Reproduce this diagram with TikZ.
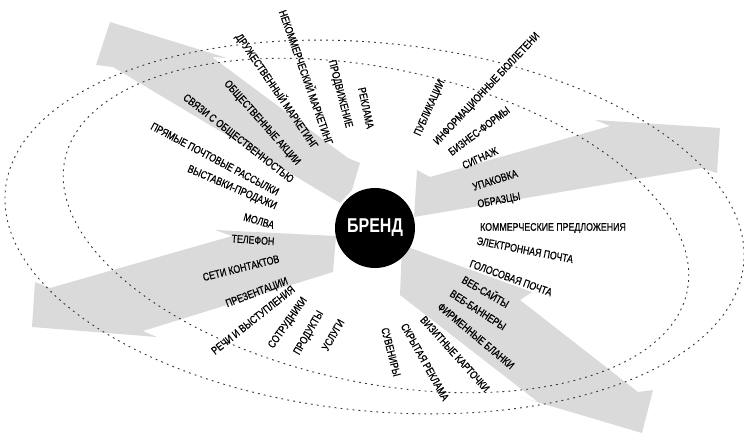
\documentclass[tikz,border=0pt]{standalone}
\usepackage{fontspec}
\setmainfont{Liberation Sans}
\newfontfamily\cond[FakeStretch=0.8]{Liberation Sans}
\newfontfamily\condm[FakeStretch=0.8,FakeBold=0.6]{Liberation Sans}
\definecolor{band}{RGB}{218,218,218}
\tikzset{
  lab/.style={font=\condm\fontsize{11}{11}\selectfont, inner sep=0pt, text=black},
  ring/.style={draw=black!80, line width=0.9pt, dash pattern=on 1.8pt off 4.2pt},
  bandfill/.style={fill=band, draw=none}
}
\begin{document}
\begin{tikzpicture}[x=1pt,y=-1pt]
\useasboundingbox (0,0) rectangle (744,434);
% arrows
\fill[bandfill] (110,22) -- (227,58) -- (212,57) -- (348,158) -- (360,163) -- (352,190) -- (340,203) -- (113,67) -- (96,65) -- cycle;
\fill[bandfill] (430,177) -- (417,170) -- (414,217) -- (702,168) -- (717,173) -- (720,128) -- (595,120) -- (610,126) -- cycle;
\fill[bandfill] (232,236) -- (215,230) -- (336,236) -- (333,272) -- (143,331) -- (157,337) -- (32,327) -- (35,282) -- (50,288) -- cycle;
\fill[bandfill] (402,245) -- (532,292) -- (520,300) -- (638,392) -- (653,390) -- (642,433) -- (520,397) -- (538,402) -- (400,295) -- cycle;
% rings
\draw[ring, rotate around={-12:(376,225.5)}] (376,225.5) ellipse [x radius=318, y radius=157];
\draw[ring, rotate around={-5.8:(374.5,227)}] (374.5,227) ellipse [x radius=371, y radius=184];
% labels left
\node[lab, rotate=-70.5] (l1) at (307,77) {НЕКОММЕРЧЕСКИЙ МАРКЕТИНГ};
\node[lab, rotate=-55.6] (l2) at (277,91) {ДРУЖЕСТВЕННЫЙ МАРКЕТИНГ};
\node[lab, rotate=-48.4] (l3) at (262,123) {ОБЩЕСТВЕННЫЕ АКЦИИ};
\node[lab, rotate=-38] (l4) at (238,139) {СВЯЗИ С ОБЩЕСТВЕННОСТЬЮ};
\node[lab, rotate=-27.9] (l5) at (215,159) {ПРЯМЫЕ ПОЧТОВЫЕ РАССЫЛКИ};
\node[lab, rotate=-23.3] (l6) at (232,188) {ВЫСТАВКИ-ПРОДАЖИ};
\node[lab, rotate=-16] (l7) at (259,221) {МОЛВА};
\node[lab, rotate=-4] (l8) at (253,240) {ТЕЛЕФОН};
\node[lab, rotate=14] (l9) at (241,268) {СЕТИ КОНТАКТОВ};
\node[lab, rotate=21] (l10) at (257,293) {ПРЕЗЕНТАЦИИ};
\node[lab, rotate=38.5] (l11) at (253,320) {РЕЧИ И ВЫСТУПЛЕНИЯ};
\node[lab, rotate=55] (l12) at (288,323) {СОТРУДНИКИ};
\node[lab, rotate=60] (l13) at (309,333) {ПРОДУКТЫ};
\node[lab, rotate=60] (l14) at (333,335) {УСЛУГИ};
\node[lab, rotate=-75.5] (l15) at (340,94) {ПРОДВИЖЕНИЕ};
\node[lab, rotate=-78] (l16) at (366,108) {РЕКЛАМА};
% labels right
\node[lab, rotate=66] (r1) at (430,108) {ПУБЛИКАЦИИ};
\node[lab, rotate=46.8] (r2) at (487,89) {ИНФОРМАЦИОННЫЕ БЮЛЛЕТЕНИ};
\node[lab, rotate=37] (r3) at (479,131) {БИЗНЕС-ФОРМЫ};
\node[lab, rotate=24.7] (r4) at (480,158) {СИГНАЖ};
\node[lab, rotate=17.7] (r5) at (495,180) {УПАКОВКА};
\node[lab, rotate=10.5] (r6) at (499,201) {ОБРАЗЦЫ};
\node[lab, rotate=0] (r7) at (553,228) {КОММЕРЧЕСКИЕ ПРЕДЛОЖЕНИЯ};
\node[lab, rotate=-11] (r8) at (525,250) {ЭЛЕКТРОННАЯ ПОЧТА};
\node[lab, rotate=-20] (r9) at (511,278) {ГОЛОСОВАЯ ПОЧТА};
\node[lab, rotate=-30] (r10) at (486,291) {ВЕБ-САЙТЫ};
\node[lab, rotate=-33] (r11) at (478,310) {ВЕБ-БАННЕРЫ};
\node[lab, rotate=-40] (r12) at (476,336) {ФИРМЕННЫЕ БЛАНКИ};
\node[lab, rotate=-48] (r13) at (455,354) {ВИЗИТНЫЕ КАРТОЧКИ};
\node[lab, rotate=-60.7] (r14) at (425,362) {СКРЫТАЯ РЕКЛАМА};
\node[lab, rotate=-75.7] (r15) at (391,352) {СУВЕНИРЫ};
% centre
\node[circle, fill=black, minimum size=80pt, inner sep=0pt, text=white, font=\cond\bfseries\fontsize{20}{20}\selectfont] (brand) at (375,228) {БРЕНД};
\end{tikzpicture}
\end{document}
